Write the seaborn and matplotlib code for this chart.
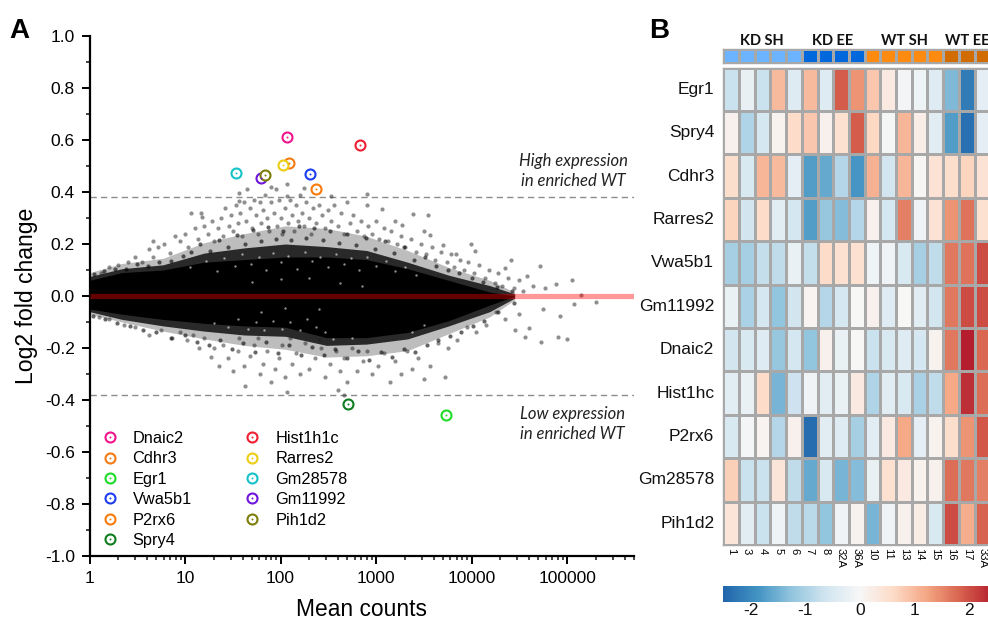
import numpy as np
import pandas as pd
import matplotlib
matplotlib.use("Agg")
import matplotlib.pyplot as plt
from matplotlib.colors import ListedColormap, LinearSegmentedColormap
from matplotlib.lines import Line2D
from matplotlib.legend_handler import HandlerTuple
from matplotlib.ticker import MultipleLocator, FixedLocator, LogLocator, NullFormatter, FuncFormatter
import seaborn as sns

# ---------- panel A data ----------
genes = ["Dnaic2", "Cdhr3", "Egr1", "Vwa5b1", "P2rx6", "Spry4",
         "Hist1h1c", "Rarres2", "Gm28578", "Gm11992", "Pih1d2"]
gene_counts = [116, 122, 5400, 204, 236, 505, 676, 107, 34, 62, 69]
gene_lfc = [0.612, 0.512, -0.459, 0.470, 0.411, -0.414, 0.581, 0.503, 0.473, 0.454, 0.464]
gene_colors = ["#F0148C", "#F57A14", "#1EDC28", "#1E3CF0", "#FA7A0A", "#0F7D1E",
               "#F01E32", "#EBCD14", "#14C3C8", "#6E14DC", "#7D7D0A"]

# extent of the solid cloud and of its looser fringes
cloud_log_counts = [0, 0.34, 0.77, 1.2, 1.62, 2.05, 2.48, 2.9, 3.33, 3.76, 4.19, 4.45]
core_upper = [0.06, 0.09, 0.10, 0.13, 0.14, 0.15, 0.15, 0.14, 0.105, 0.06, 0.015, 0.0]
core_lower = [-0.05, -0.07, -0.09, -0.105, -0.115, -0.12, -0.16, -0.16, -0.14, -0.095, -0.035, 0.0]
fringe_upper = [0.075, 0.105, 0.12, 0.165, 0.185, 0.2, 0.19, 0.175, 0.13, 0.08, 0.04, 0.008]
fringe_lower = [-0.06, -0.09, -0.115, -0.135, -0.15, -0.155, -0.19, -0.185, -0.165, -0.115, -0.06, -0.008]
halo_upper = [0.09, 0.125, 0.145, 0.205, 0.24, 0.27, 0.26, 0.23, 0.175, 0.11, 0.06, 0.015]
halo_lower = [-0.07, -0.10, -0.135, -0.165, -0.19, -0.205, -0.235, -0.23, -0.21, -0.145, -0.08, -0.015]

# individually visible sparse genes: (log10 mean counts, log2 fold change)
sparse_upper = [
    (1.06,.32),(1.17,.32),(1.18,.305),(1.56,.365),(1.56,.397),(1.65,.41),(1.9,.42),(1.95,.41),(2.07,.43),
    (2.07,.385),(2.25,.415),(2.53,.385),(2.9,.393),(2.9,.35),(3.06,.335),(3.39,.317),(3.54,.31),(3.2,.29),
    (3.27,.275),(3.5,.25),(3.56,.233),(3.7,.195),(3.99,.2),(4.04,.172),(3.84,.16),(4.41,.137),(4.71,.117),
    (4.35,.108),(5.05,.06),(4.88,.047),(4.58,.078),(4.77,.03),(5.14,.005),
    (0.62,.18),(0.66,.21),(0.72,.19),(0.78,.2),(0.84,.165),(0.9,.23),(0.95,.21),(1.0,.24),(1.03,.19),
    (1.1,.26),(1.14,.22),(1.2,.27),(1.24,.24),(1.28,.29),(1.3,.21),(1.34,.26),(1.38,.3),(1.4,.23),
    (1.42,.34),(1.46,.27),(1.48,.31),(1.5,.25),(1.53,.35),(1.55,.28),(1.58,.32),(1.6,.23),(1.62,.36),
    (1.64,.29),(1.68,.34),(1.7,.26),(1.72,.37),(1.74,.31),(1.76,.24),(1.78,.36),(1.8,.28),(1.82,.33),
    (1.84,.39),(1.86,.3),(1.88,.25),(1.9,.36),(1.93,.32),(1.96,.27),(1.98,.37),(2.0,.3),(2.02,.24),
    (2.05,.34),(2.08,.28),(2.1,.37),(2.12,.31),(2.14,.25),(2.16,.35),(2.18,.29),(2.2,.39),(2.22,.32),
    (2.24,.27),(2.27,.36),(2.3,.3),(2.32,.24),(2.34,.34),(2.37,.28),(2.4,.35),(2.43,.31),(2.46,.26),
    (2.5,.33),(2.53,.29),(2.56,.35),(2.6,.27),(2.63,.32),(2.66,.24),(2.7,.36),(2.73,.28),(2.76,.31),
    (2.8,.25),(2.84,.29),(2.87,.23),(2.92,.27),(2.96,.24),(3.0,.29),(3.03,.22),(3.08,.26),(3.12,.21),
    (3.16,.25),(3.22,.2),(3.26,.23),(3.3,.19),(3.36,.22),(3.42,.17),(3.47,.2),(3.52,.16),(3.58,.19),
    (3.62,.14),(3.68,.17),(3.74,.13),(3.78,.16),(3.82,.11),(3.88,.14),(3.92,.1),(3.96,.13),(4.02,.09),
    (4.08,.12),(4.14,.07),(4.18,.1),(4.24,.05),(4.28,.09),(4.32,.04),(4.38,.07),(4.44,.03),(4.5,.06),
    (4.54,.02),(4.64,.04),(0.4,.13),(0.48,.15),(0.55,.13),(0.3,.12),(0.2,.11),(0.12,.09),(0.66,.15),
]
sparse_lower = [
    (5.3,-.023),(5.07,-.03),(4.92,-.078),(5.0,-.166),(4.9,-.158),(4.73,-.178),(4.56,-.158),(4.45,-.13),
    (4.6,-.123),(4.75,-.05),(4.5,-.07),(4.35,-.09),(4.25,-.06),(4.15,-.11),(4.05,-.14),(3.95,-.12),
    (3.85,-.17),(3.75,-.2),(3.65,-.18),(3.72,-.31),(3.56,-.27),(3.5,-.32),(3.44,-.24),(3.38,-.28),
    (3.32,-.21),(3.26,-.3),(3.2,-.25),(3.14,-.33),(3.08,-.22),(3.02,-.27),(2.96,-.3),(2.9,-.21),
    (2.86,-.25),(2.8,-.29),(2.75,-.2),(2.7,-.33),(2.66,-.24),(2.62,-.29),(2.66,-.38),(2.6,-.36),(2.58,-.21),
    (2.52,-.26),(2.46,-.31),(2.42,-.2),(2.36,-.24),(2.3,-.28),(2.26,-.18),(2.2,-.3),(2.16,-.22),(2.12,-.26),
    (2.07,-.37),(2.05,-.31),(2.02,-.19),(1.98,-.24),(1.94,-.28),(1.9,-.33),(1.86,-.21),(1.82,-.26),(1.78,-.3),
    (1.72,-.19),(1.68,-.23),(1.62,-.27),(1.63,-.345),(1.55,-.21),(1.5,-.29),(1.45,-.24),(1.4,-.19),(1.36,-.27),(1.3,-.2),
    (1.27,-.235),(1.2,-.16),(1.15,-.2),(1.08,-.15),(1.02,-.17),(0.95,-.14),(0.86,-.16),(0.75,-.13),
    (0.62,-.15),(0.48,-.12),(0.36,-.11),(0.2,-.09),(0.1,-.08),(1.56,-.16),(1.76,-.16),(2.1,-.16),(2.4,-.17),
]
edge_upper = [
    (0.05,.085),(0.15,.095),(0.27,.105),(0.38,.105),(0.5,.125),(0.61,.115),(0.73,.13),(0.85,.135),(0.98,.155),
    (1.06,.17),(1.16,.2),(1.26,.175),(1.36,.215),(1.45,.19),(1.54,.235),(1.63,.2),(1.71,.255),(1.79,.21),
    (1.87,.265),(1.95,.22),(2.03,.25),(2.11,.215),(2.19,.27),(2.27,.225),(2.35,.26),(2.44,.215),(2.52,.25),
    (2.61,.205),(2.7,.24),(2.79,.195),(2.89,.225),(2.99,.18),(3.09,.21),(3.19,.165),(3.29,.19),(3.4,.14),
    (3.51,.15),(3.63,.115),(3.75,.1),(3.87,.09),(4.0,.07),(4.12,.055),(4.26,.035),(4.42,.02),
]
edge_lower = [
    (0.04,-.075),(0.16,-.09),(0.29,-.105),(0.42,-.115),(0.56,-.13),(0.7,-.14),(0.85,-.16),(1.0,-.15),(1.13,-.175),
    (1.25,-.19),(1.37,-.17),(1.49,-.205),(1.61,-.18),(1.73,-.215),(1.85,-.175),(1.97,-.22),(2.09,-.19),(2.21,-.225),
    (2.33,-.195),(2.45,-.225),(2.57,-.205),(2.69,-.24),(2.81,-.21),(2.93,-.245),(3.05,-.215),(3.17,-.235),(3.29,-.205),
    (3.41,-.215),(3.53,-.19),(3.65,-.17),(3.77,-.155),(3.89,-.14),(4.01,-.115),(4.13,-.095),(4.28,-.06),(4.44,-.025),
]
# pale gaps seen inside the fringe of the cloud
gaps = [
    (1.05,.11),(1.22,.135),(1.33,.095),(1.41,.145),(1.52,.115),(1.6,.16),(1.69,.125),(1.77,.15),(1.85,.1),
    (1.92,.165),(2.0,.13),(2.08,.155),(2.17,.105),(2.26,.17),(2.33,.135),(2.41,.15),(2.5,.11),(2.58,.16),
    (2.66,.125),(2.74,.145),(2.82,.1),(2.9,.15),(3.0,.115),(3.1,.135),(3.2,.095),(3.3,.11),(3.42,.08),
    (1.3,-.105),(1.45,-.12),(1.55,-.09),(1.66,-.125),(1.74,-.1),(1.83,-.13),(1.92,-.095),(2.01,-.125),
    (2.1,-.1),(2.2,-.13),(2.28,-.09),(2.37,-.12),(2.46,-.14),(3.38,-.14),(3.5,-.11),(2.55,-.165),(2.75,-.16),
    (2.0,.065),(2.3,.07),(2.62,.05),(1.7,.055),(2.4,-.05),(2.05,-.045),(1.8,-.06),(2.85,.04),
]

# ---------- panel B data ----------
row_labels = ["Egr1", "Spry4", "Cdhr3", "Rarres2", "Vwa5b1", "Gm11992", "Dnaic2",
              "Hist1hc", "P2rx6", "Gm28578", "Pih1d2"]
col_labels = ["1", "3", "4", "5", "6", "7", "8", "32A", "36A", "10", "11", "13", "14", "15", "16", "17", "33A"]
group_codes = [0, 0, 0, 0, 0, 1, 1, 1, 1, 2, 2, 2, 2, 2, 3, 3, 3]
group_colors = ["#6CB4FF", "#0068DC", "#FF8A10", "#D06C00"]
heat_colors = ["#2166ac", "#4393c3", "#92c5de", "#d1e5f0", "#f7f7f7", "#fddbc7", "#f4a582", "#d6604d", "#b2182b"]
egr1 = [-0.7, -0.25, -0.7, 1.0, -0.4, 1.0, -0.4, 1.9, 1.4, 0.85, 0.3, -0.08, -0.15, -0.4, -1.4, -2.2, -0.3]
spry4 = [0.15, -0.95, -0.55, 0.1, 0.6, 0.85, 0.15, 0.5, 1.9, 0.65, -0.05, 1.05, 0.2, -0.35, -1.75, -2.35, -0.3]
cdhr3 = [0.55, -0.5, 1.05, 1.0, -0.3, -1.75, -1.6, -0.9, -1.85, 1.1, -0.6, 1.05, 0.05, 0.45, 0.55, 0.7, 0.45]
rarres2 = [0.7, -0.6, 0.6, -0.35, -0.55, -1.75, -1.2, -1.35, -0.9, 0.15, -0.55, 1.6, -0.12, 0.45, 1.4, 1.7, 0.5]
vwa5b1 = [-1.05, -1.05, -0.75, -0.8, -0.2, -0.75, 0.6, 0.5, 0.5, -0.15, -0.12, -0.5, -1.05, -0.8, 1.65, 1.7, 2.05]
gm11992 = [-0.2, -1.0, -0.55, -1.25, -0.6, 0.08, -0.9, -0.55, 0.0, 0.15, -0.4, 0.0, -0.35, -0.6, 1.65, 2.05, 2.05]
dnaic2 = [-0.6, -0.5, -0.4, -1.2, -0.55, -1.25, 0.15, -0.2, 0.0, -0.7, -0.5, -0.4, -0.55, 0.1, 1.65, 2.45, 1.8]
hist1hc = [-0.35, -0.2, 0.6, -1.45, -0.65, -0.12, -0.35, -0.2, 0.3, -0.95, -0.35, -0.5, -1.0, -0.8, 1.2, 2.3, 1.75]
p2rx6 = [-0.5, -0.07, 0.08, -0.9, 0.15, -2.4, -0.35, -0.4, -1.05, -0.35, 0.3, 1.2, -0.3, 0.1, 0.55, 1.4, 1.95]
gm28578 = [0.75, -0.7, -0.7, 0.4, -0.8, -1.6, -0.5, -1.45, -1.35, -0.25, 0.5, 0.3, 0.1, 0.15, 1.75, 1.65, 1.6]
pih1d2 = [0.4, -0.35, -0.7, -0.15, -0.8, -0.85, -1.25, -0.12, 0.1, -1.45, -0.12, 0.15, 0.25, -0.5, 2.05, 1.15, 1.85]
heat_values = [egr1, spry4, cdhr3, rarres2, vwa5b1, gm11992, dnaic2, hist1hc, p2rx6, gm28578, pih1d2]

# ---------- figure ----------
sns.set_theme(style="white")
plt.rcParams["font.family"] = ["Liberation Sans", "DejaVu Sans"]
plt.rcParams["axes.unicode_minus"] = False
W, H = 988, 621
fig = plt.figure(figsize=(W / 100, H / 100), dpi=100)


def box(x0, y0, x1, y1):
    return [x0 / W, 1 - y1 / H, (x1 - x0) / W, (y1 - y0) / H]


def point_frame(pairs):
    frame = pd.DataFrame(pairs, columns=["log_counts", "lfc"])
    frame["counts"] = np.power(10.0, frame["log_counts"])
    return frame


# ---------- panel A ----------
ax = fig.add_axes(box(89.5, 36, 634, 556))
ax.set_xscale("log")
ax.set_xlim(1, 5e5)
ax.set_ylim(-1, 1)

cloud_x = np.power(10.0, cloud_log_counts)
ax.fill_between(cloud_x, halo_lower, halo_upper, color="black", alpha=0.26, lw=0, zorder=1)
ax.fill_between(cloud_x, fringe_lower, fringe_upper, color="black", alpha=0.78, lw=0, zorder=1.05)
ax.fill_between(cloud_x, core_lower, core_upper, color="black", lw=0, zorder=1.1)

sns.scatterplot(data=point_frame(sparse_upper + sparse_lower), x="counts", y="lfc", ax=ax, s=9, color="#202020",
                alpha=0.5, linewidth=0, zorder=2, legend=False)
sns.scatterplot(data=point_frame(edge_upper + edge_lower), x="counts", y="lfc", ax=ax, s=9, color="black",
                alpha=0.6, linewidth=0, zorder=2, legend=False)
sns.scatterplot(data=point_frame(gaps), x="counts", y="lfc", ax=ax, s=3, color="white",
                alpha=0.55, linewidth=0, zorder=2.1, legend=False)

ax.axhline(0, color=(1, 0, 0), alpha=0.4, lw=3.8, zorder=3, solid_capstyle="butt")
for level in (0.38, -0.38):
    ax.axhline(level, color="#8c8c8c", lw=1.0, dashes=(4.5, 3), zorder=1.5)

genes_df = pd.DataFrame({"gene": genes, "counts": gene_counts, "lfc": gene_lfc})
for g, c in zip(genes, gene_colors):
    d = genes_df[genes_df.gene == g]
    ax.plot(d["counts"], d["lfc"], ls="none", marker="o", ms=7.2, mfc="white", mec=c, mew=1.5, zorder=5)
    ax.plot(d["counts"], d["lfc"], ls="none", marker="o", ms=1.4, mfc=c, mec=c, mew=0, zorder=6)

for s in ("top", "right"):
    ax.spines[s].set_visible(False)
for s in ("left", "bottom"):
    ax.spines[s].set_linewidth(1.6)
    ax.spines[s].set_color("black")
ax.yaxis.set_major_locator(MultipleLocator(0.2))
ax.yaxis.set_minor_locator(MultipleLocator(0.1))
ax.yaxis.set_major_formatter(FuncFormatter(lambda v, _: f"{v + 0.0:.1f}".replace("-0.0", "0.0")))
ax.xaxis.set_major_locator(FixedLocator([1, 10, 100, 1000, 10000, 100000]))
ax.xaxis.set_major_formatter(FuncFormatter(lambda v, _: f"{v:.0f}"))
ax.xaxis.set_minor_locator(LogLocator(base=10, subs=np.arange(2, 10), numticks=12))
ax.xaxis.set_minor_formatter(NullFormatter())
ax.tick_params(axis="both", which="major", direction="out", length=5.5, width=1.4, labelsize=12.5, pad=5,
               bottom=True, left=True, colors="black")
ax.tick_params(axis="both", which="minor", direction="out", length=3, width=1.2, bottom=True, left=True)
ax.set_xlabel("Mean counts", fontsize=16.4, color="black")
ax.set_ylabel("Log2 fold change", fontsize=16.6, color="black")
ax.xaxis.set_label_coords((361 - 89.5) / (634 - 89.5), -(610 - 556) / 520, transform=ax.transAxes)
ax.xaxis.label.set_va("center")
ax.yaxis.set_label_coords(-(89.5 - 27) / 544.5, 0.5)
ax.yaxis.label.set_va("center")

handles = [(Line2D([], [], ls="none", marker="o", ms=7.2, mfc="white", mec=c, mew=1.5),
            Line2D([], [], ls="none", marker="o", ms=1.4, mfc=c, mec=c, mew=0)) for c in gene_colors]
ax.legend(handles, genes, ncol=2, frameon=False, fontsize=11.8, handler_map={tuple: HandlerTuple(ndivide=1)},
          loc="upper left", bbox_to_anchor=((96.5 - 89.5) / 544.5, 1 - (431 - 36) / 520), borderaxespad=0, borderpad=0,
          handlelength=1.6, handletextpad=0.6, columnspacing=2.9, labelspacing=0.33, labelcolor="black")

note_font = ["Lato", "DejaVu Sans"]
for x, y, t in [(573, 161, "High expression"), (573, 181, "in enriched WT"),
                (572, 414, "Low expression"), (572, 434, "in enriched WT")]:
    fig.text(x / W, 1 - y / H, t, ha="center", va="center", style="italic", fontsize=12,
             family=note_font, color="#222222")

fig.text(9 / W, 1 - 38 / H, "A", fontsize=20, fontweight="bold", color="black", family=["Liberation Sans"])
fig.text(649 / W, 1 - 38 / H, "B", fontsize=20, fontweight="bold", color="black", family=["Liberation Sans"])

# ---------- panel B ----------
cell = 15.7
hm_right = 723.3 + cell * 17
heat_cmap = LinearSegmentedColormap.from_list("heat", heat_colors)
heat_df = pd.DataFrame(heat_values, index=row_labels, columns=col_labels)
hax = fig.add_axes(box(723.3, 67.7, hm_right, 545))
cax = fig.add_axes(box(723.4, 586, 996, 602))
sns.heatmap(heat_df, ax=hax, cmap=heat_cmap, vmin=-2.5, vmax=2.5, linewidths=0.75, linecolor="#a8a8a8",
            xticklabels=True, yticklabels=True,
            cbar_ax=cax, cbar_kws={"orientation": "horizontal", "ticks": [-2, -1, 0, 1, 2]})
hax.set_xlabel("")
hax.set_ylabel("")
hax.tick_params(axis="y", length=0, labelsize=12.5, rotation=0, pad=6.5, colors="#111111")
hax.tick_params(axis="x", length=0, labelsize=8, pad=2, colors="black")
for lab in hax.get_xticklabels():
    lab.set_rotation(270)
    lab.set_ha("center")
    lab.set_va("top")
for s in hax.spines.values():
    s.set_visible(True)
    s.set_color("#a8a8a8")
    s.set_linewidth(1.0)
cax.tick_params(length=0, labelsize=12.5, pad=1, colors="#111111")
for s in cax.spines.values():
    s.set_visible(False)
hax.collections[0].colorbar.outline.set_visible(False)

gax = fig.add_axes(box(723.3, 49, hm_right, 63.3))
group_df = pd.DataFrame([group_codes], columns=col_labels)
sns.heatmap(group_df, ax=gax, cmap=ListedColormap(group_colors), vmin=-0.5, vmax=3.5, cbar=False,
            linewidths=0.75, linecolor="#a8a8a8", xticklabels=False, yticklabels=False)
gax.set_xlabel("")
gax.set_ylabel("")
for s in gax.spines.values():
    s.set_visible(True)
    s.set_color("#a8a8a8")
    s.set_linewidth(1.0)

for x, t in [(761.7, "KD SH"), (833, "KD EE"), (904, "WT SH"), (967, "WT EE")]:
    fig.text(x / W, 1 - 41 / H, t, ha="center", va="center", fontsize=10.5, fontweight="bold",
             family=note_font, color="#111111")

fig.savefig("out.png", dpi=100)
